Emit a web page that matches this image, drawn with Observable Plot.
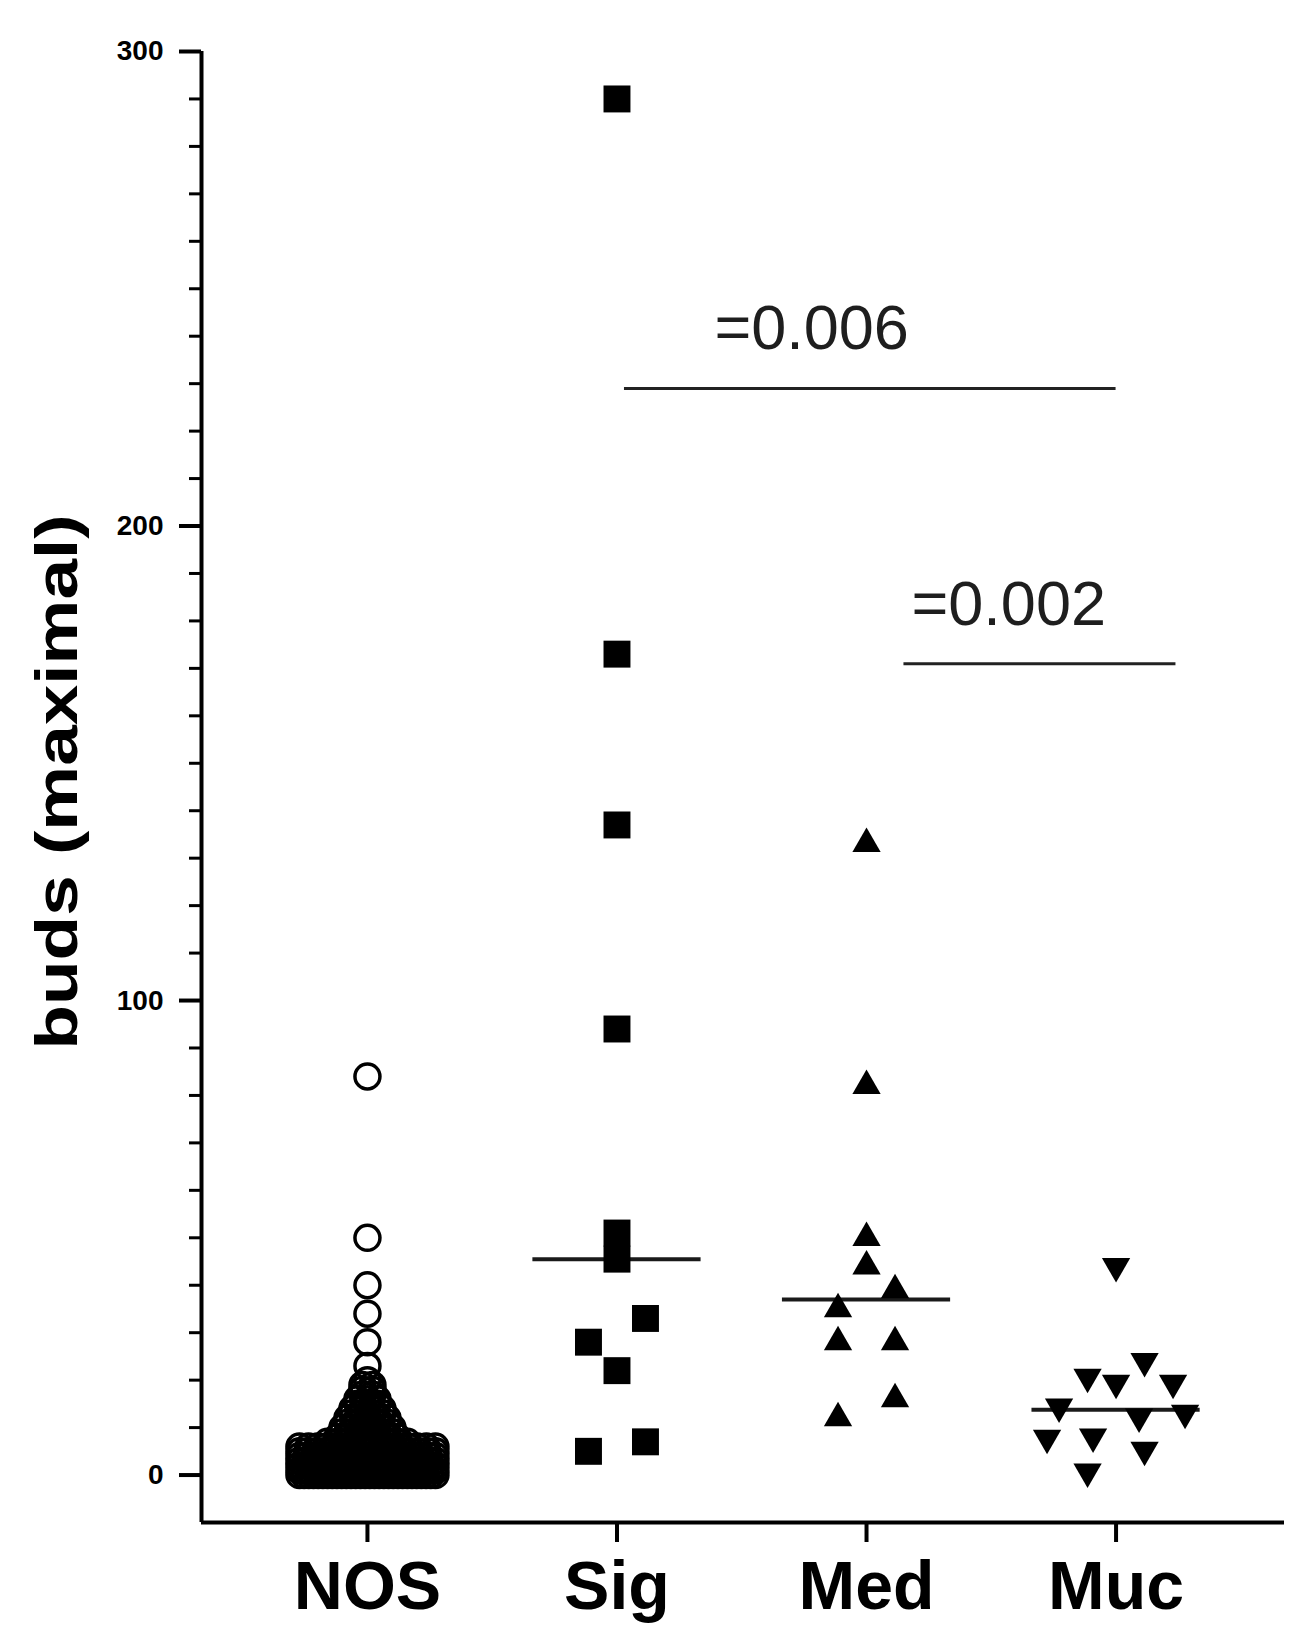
<!DOCTYPE html>
<html><head><meta charset="utf-8">
<script src="https://cdn.jsdelivr.net/npm/d3@7"></script>
<script src="https://cdn.jsdelivr.net/npm/@observablehq/plot@0.6"></script>
<style>html,body{margin:0;padding:0;background:#fff} svg{display:block}</style>
</head><body><div id="chart"></div>
<script>
// ---- data ----
const categories = ["NOS", "Sig", "Med", "Muc"];
// NOS: dense cluster of integer counts; level and number of cases at that level (estimated)
const nosLevels = [0, 1, 2, 3, 4, 5, 6, 7, 8, 9, 10, 11, 12, 13, 14, 15, 16, 17, 18, 19, 20, 23, 28, 34, 40, 50, 84];
const nosCounts = [30, 28, 25, 22, 20, 18, 16, 9, 7, 6, 6, 5, 5, 4, 4, 3, 3, 2, 2, 2, 1, 1, 1, 1, 1, 1, 1];
const sigValues = [290, 173, 137, 94, 51, 45.5, 33, 28, 22, 7, 5];
const medValues = [133, 82, 50, 44, 39, 35, 28, 28, 16, 12];
const mucValues = [44, 24, 20.7, 19.4, 19.4, 14.4, 13.1, 12.3, 8.1, 7.8, 5.3, 0.7];
const yTicks = [0, 100, 200, 300];
const pLabels = ["=0.006", "=0.002"];
const pBarY = [229, 171];
const pBarX1 = [2.03, 3.15];
const pBarX2 = [4.0, 4.24];
const pTextX = [2.78, 3.57];
const yLabel = "buds (maximal)";

// ---- layout ----
const W = 1304, H = 1644, mL = 201, mR = 20, mT = 51, mB = 122;
const yDomain = [-10, 300], xDomain = [0.335, 4.675];
const ypx = (H - mT - mB) / (yDomain[1] - yDomain[0]);
const xpx = (W - mL - mR) / (xDomain[1] - xDomain[0]);

// column-scatter arrangement: nearby values share a row and are spread sideways
function arrange(values, idx, {gap, step, maxWidth}) {
  const sorted = values.slice().sort((a, b) => a - b);
  const rows = []; let cur = null;
  for (const v of sorted) {
    if (!cur || (v - cur.start) * ypx >= gap) { cur = {start: v, items: []}; rows.push(cur); }
    cur.items.push(v);
  }
  const out = [];
  for (const r of rows) {
    const n = r.items.length;
    const s = n > 1 ? Math.min(step, maxWidth / (n - 1)) : 0;
    r.items.forEach((v, i) => out.push({cat: categories[idx - 1], x: idx + (i - (n - 1) / 2) * s / xpx, y: v}));
  }
  return out;
}

const nosValues = nosLevels.flatMap((v, i) => Array(nosCounts[i]).fill(v));
const nosPts = arrange(nosValues, 1, {gap: 0.5, step: 10, maxWidth: 136});
const sigPts = arrange(sigValues, 2, {gap: 26, step: 57, maxWidth: 138});
const medPts = arrange(medValues, 3, {gap: 26, step: 57, maxWidth: 138});
const mucPts = arrange(mucValues, 4, {gap: 26, step: 57, maxWidth: 138});

// medians (the NOS one is hidden inside the dense cluster in the original, so only the other groups show it)
const medians = [sigValues, medValues, mucValues].map((vals, i) => ({i: i + 2, m: d3.median(vals)}));
const pRows = pLabels.map((t, i) => ({t, y: pBarY[i], x1: pBarX1[i], x2: pBarX2[i], tx: pTextX[i]}));

const triangleDown = {
  draw(context, size) {
    const y = -Math.sqrt(size / (Math.sqrt(3) * 3));
    context.moveTo(0, -y * 2);
    context.lineTo(-Math.sqrt(3) * y, y);
    context.lineTo(Math.sqrt(3) * y, y);
    context.closePath();
  }
};

const minorTicks = d3.range(10, 300, 10).filter(v => v % 100 !== 0);

const chart = Plot.plot({
  width: W, height: H,
  marginLeft: mL, marginRight: mR, marginTop: mT, marginBottom: mB,
  x: {domain: xDomain},
  y: {domain: yDomain},
  style: {fontFamily: "'Liberation Sans', Arial, Helvetica, sans-serif", background: "white", color: "black"},
  marks: [
    Plot.ruleY(medians, {y: "m", x1: d => d.i - 0.337, x2: d => d.i + 0.337, stroke: "#1a1a1a", strokeWidth: 4}),
    Plot.dot(nosPts, {x: "x", y: "y", symbol: "circle", r: 12.5, fill: "none", stroke: "black", strokeWidth: 3.5}),
    Plot.dot(sigPts, {x: "x", y: "y", symbol: "square", r: 15.2, fill: "black"}),
    Plot.dot(medPts, {x: "x", y: "y", symbol: "triangle", r: 10.5, fill: "black"}),
    Plot.dot(mucPts, {x: "x", y: "y", symbol: triangleDown, r: 10.5, fill: "black"}),
    Plot.ruleY(pRows, {y: "y", x1: "x1", x2: "x2", stroke: "#222", strokeWidth: 3}),
    Plot.text(pRows, {x: "tx", y: "y", text: "t", dy: -39, lineAnchor: "bottom", fontSize: 63, fill: "#1e1e1e"}),
    Plot.ruleX([xDomain[0]], {y1: yDomain[0], y2: yDomain[1], strokeWidth: 4}),
    Plot.ruleY([yDomain[0]], {strokeWidth: 4}),
    Plot.axisY(yTicks, {tickSize: 22, tickPadding: 16, fontSize: 28, fontWeight: "bold", strokeWidth: 4, label: null}),
    Plot.axisY(minorTicks, {tickSize: 12, tickFormat: () => "", strokeWidth: 3, label: null}),
    Plot.axisX([1, 2, 3, 4], {tickFormat: i => categories[i - 1], tickSize: 20, tickPadding: 18, fontSize: 68, fontWeight: "bold", strokeWidth: 4, label: null}),
    Plot.text([yLabel], {text: d => d, frameAnchor: "left", textAnchor: "middle", lineAnchor: "middle", rotate: -90, dx: -143, dy: -5, fontSize: 59, fontWeight: "bold", fill: "black", className: "ylabel"})
  ]
});
// stretch the axis title to the length it has in the original figure
d3.select(chart).selectAll(".ylabel text").attr("textLength", 535).attr("lengthAdjust", "spacingAndGlyphs");
document.getElementById("chart").append(chart);
</script>
</body></html>
